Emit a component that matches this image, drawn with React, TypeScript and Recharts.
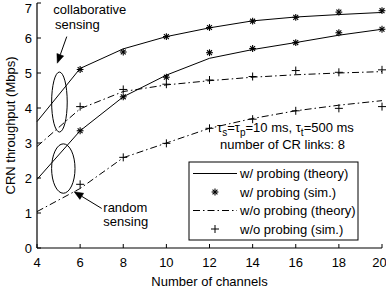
import React from 'react';
import { ComposedChart, Line, XAxis, YAxis, ReferenceDot, ReferenceLine, Customized } from 'recharts';

const channels = [4, 6, 8, 10, 12, 14, 16, 18, 20];
const collabProbTheory = [3.61, 5.13, 5.69, 6.04, 6.29, 6.49, 6.6, 6.67, 6.73];
const collabProbSim = [null, 5.1, 5.6, 6.04, 6.3, 6.48, 6.59, 6.74, 6.78];
const randomProbTheory = [1.96, 3.35, 4.32, 4.94, 5.42, 5.67, 5.87, 6.08, 6.25];
const randomProbSim = [null, 3.35, 4.32, 4.88, 5.58, 5.7, 5.87, 6.15, 6.25];
const collabNoProbTheory = [2.9, 3.98, 4.47, 4.66, 4.78, 4.88, 4.95, 5.0, 5.04];
const collabNoProbSim = [null, 4.04, 4.53, 4.68, 4.8, 4.9, 5.07, 5.02, 5.09];
const randomNoProbTheory = [1.04, 1.7, 2.58, 3.0, 3.42, 3.7, 3.92, 4.08, 4.21];
const randomNoProbSim = [null, 1.82, 2.59, 2.99, 3.42, 3.68, 3.92, 3.99, 4.04];

const xTicks = [4, 6, 8, 10, 12, 14, 16, 18, 20];
const yTicks = [0, 1, 2, 3, 4, 5, 6, 7];
const legendLabels = ['w/ probing (theory)', 'w/ probing (sim.)', 'w/o probing (theory)', 'w/o probing (sim.)'];

const data = channels.map((x, i) => ({
  x,
  cpt: collabProbTheory[i],
  cps: collabProbSim[i],
  rpt: randomProbTheory[i],
  rps: randomProbSim[i],
  cnt: collabNoProbTheory[i],
  cns: collabNoProbSim[i],
  rnt: randomNoProbTheory[i],
  rns: randomNoProbSim[i],
}));

const FONT = '"Liberation Sans", Arial, sans-serif';
const DASHDOT = '7 3 1.5 3';

const Star = (cx: number, cy: number, key?: any) => {
  const r = 3.4;
  const d = r * 0.72;
  return (
    <g key={key}>
      <line x1={cx - r} y1={cy} x2={cx + r} y2={cy} stroke="#000" strokeWidth={1.1} />
      <line x1={cx} y1={cy - r} x2={cx} y2={cy + r} stroke="#000" strokeWidth={1.1} />
      <line x1={cx - d} y1={cy - d} x2={cx + d} y2={cy + d} stroke="#000" strokeWidth={1.1} />
      <line x1={cx - d} y1={cy + d} x2={cx + d} y2={cy - d} stroke="#000" strokeWidth={1.1} />
    </g>
  );
};

const Plus = (cx: number, cy: number, key?: any) => {
  const r = 4;
  return (
    <g key={key}>
      <line x1={cx - r} y1={cy} x2={cx + r} y2={cy} stroke="#000" strokeWidth={1} />
      <line x1={cx} y1={cy - r} x2={cx} y2={cy + r} stroke="#000" strokeWidth={1} />
    </g>
  );
};

const StarDot = (p: any) => {
  if (p.cx == null || p.cy == null || p.value == null || (Array.isArray(p.value) && p.value[1] == null)) return <g key={p.key} />;
  return Star(p.cx, p.cy, p.key);
};
const PlusDot = (p: any) => {
  if (p.cx == null || p.cy == null || p.value == null || (Array.isArray(p.value) && p.value[1] == null)) return <g key={p.key} />;
  return Plus(p.cx, p.cy, p.key);
};

const ArrowShape = (p: any) => {
  const { x1, y1, x2, y2 } = p;
  const dx = x2 - x1;
  const dy = y2 - y1;
  const len = Math.sqrt(dx * dx + dy * dy) || 1;
  const ux = dx / len;
  const uy = dy / len;
  const hl = 9;
  const hw = 3.6;
  const bx = x2 - ux * hl;
  const by = y2 - uy * hl;
  return (
    <g>
      <line x1={x1} y1={y1} x2={bx} y2={by} stroke="#000" strokeWidth={1} />
      <polygon
        points={`${x2},${y2} ${bx - uy * hw},${by + ux * hw} ${bx + uy * hw},${by - ux * hw}`}
        fill="#000"
        stroke="#000"
        strokeWidth={0.5}
      />
    </g>
  );
};

const ellipseShape = (rx: number, ry: number) => (p: any) => (
  <ellipse cx={p.cx} cy={p.cy} rx={rx} ry={ry} fill="none" stroke="#000" strokeWidth={1} />
);

const textShape = (lines: string[], lineGap: number, indent: number[] = []) => (p: any) => (
  <g>
    {lines.map((t, i) => (
      <text key={i} x={p.cx + (indent[i] || 0)} y={p.cy + i * lineGap} fontFamily={FONT} fontSize={13} fill="#000">
        {t}
      </text>
    ))}
  </g>
);

const tauShape = (p: any) => (
  <g fontFamily={FONT} fontSize={13} fill="#000">
    <text x={p.cx} y={p.cy}>
      <tspan>τ</tspan>
      <tspan fontSize={10} dy={4}>s</tspan>
      <tspan dy={-4}>=τ</tspan>
      <tspan fontSize={10} dy={4}>p</tspan>
      <tspan dy={-4}>=10 ms, τ</tspan>
      <tspan fontSize={10} dy={4}>t</tspan>
      <tspan dy={-4}>=500 ms</tspan>
    </text>
    <text x={p.cx + 3} y={p.cy + 17}>number of CR links: 8</text>
  </g>
);

const LegendBox = () => {
  const left = 189;
  const top = 162;
  const rows = [173.5, 192, 210.5, 229];
  return (
    <g>
      <rect x={left} y={top} width={169} height={78} fill="#fff" stroke="#000" strokeWidth={1} />
      <line x1={193} y1={rows[0]} x2={237} y2={rows[0]} stroke="#000" strokeWidth={1} />
      {Star(215, rows[1])}
      <line x1={193} y1={rows[2]} x2={237} y2={rows[2]} stroke="#000" strokeWidth={1} strokeDasharray={DASHDOT} />
      {Plus(215, rows[3])}
      {legendLabels.map((t, i) => (
        <text key={t} x={240} y={rows[i]} dy="0.36em" fontFamily={FONT} fontSize={13} fill="#000">
          {t}
        </text>
      ))}
    </g>
  );
};

export default function App() {
  const axisStroke = { stroke: '#000', strokeWidth: 1.2 };
  const tickStyle = { fill: '#000', fontSize: 13, fontFamily: FONT };
  return (
    <div style={{ position: 'absolute', left: 0, top: 0, width: 386, height: 292, background: '#fff' }}>
      <ComposedChart width={386} height={292} data={data} margin={{ top: 3, right: 4, left: 0, bottom: 0 }}>
        <XAxis
          xAxisId="b"
          dataKey="x"
          type="number"
          domain={[4, 20]}
          ticks={xTicks}
          height={44}
          tickSize={-4}
          tickMargin={14}
          axisLine={axisStroke}
          tickLine={{ stroke: '#000' }}
          tick={tickStyle}
          label={{ value: 'Number of channels', position: 'insideBottom', offset: 6, fill: '#000', fontSize: 13, fontFamily: FONT }}
        />
        <XAxis
          xAxisId="t"
          orientation="top"
          dataKey="x"
          type="number"
          domain={[4, 20]}
          ticks={xTicks}
          height={0}
          tickSize={-4}
          axisLine={axisStroke}
          tickLine={{ stroke: '#000' }}
          tickFormatter={() => ''}
        />
        <YAxis
          yAxisId="l"
          type="number"
          domain={[0, 7]}
          ticks={yTicks}
          width={37}
          tickSize={-4}
          tickMargin={9}
          axisLine={axisStroke}
          tickLine={{ stroke: '#000' }}
          tick={tickStyle}
          label={{
            value: 'CRN throughput (Mbps)',
            angle: -90,
            position: 'insideLeft',
            offset: 10,
            fill: '#000',
            fontSize: 13,
            fontFamily: FONT,
            style: { textAnchor: 'middle' },
          }}
        />
        <YAxis
          yAxisId="r"
          orientation="right"
          type="number"
          domain={[0, 7]}
          ticks={yTicks}
          width={0}
          tickSize={-4}
          axisLine={axisStroke}
          tickLine={{ stroke: '#000' }}
          tickFormatter={() => ''}
        />

        <Line xAxisId="b" yAxisId="l" dataKey="cpt" type="linear" stroke="#000" strokeWidth={1} dot={false} isAnimationActive={false} />
        <Line xAxisId="b" yAxisId="l" dataKey="rpt" type="linear" stroke="#000" strokeWidth={1} dot={false} isAnimationActive={false} />
        <Line xAxisId="b" yAxisId="l" dataKey="cnt" type="linear" stroke="#000" strokeWidth={1} strokeDasharray={DASHDOT} dot={false} isAnimationActive={false} />
        <Line xAxisId="b" yAxisId="l" dataKey="rnt" type="linear" stroke="#000" strokeWidth={1} strokeDasharray={DASHDOT} dot={false} isAnimationActive={false} />
        <Line xAxisId="b" yAxisId="l" dataKey="cps" stroke="none" dot={StarDot} activeDot={false} isAnimationActive={false} />
        <Line xAxisId="b" yAxisId="l" dataKey="rps" stroke="none" dot={StarDot} activeDot={false} isAnimationActive={false} />
        <Line xAxisId="b" yAxisId="l" dataKey="cns" stroke="none" dot={PlusDot} activeDot={false} isAnimationActive={false} />
        <Line xAxisId="b" yAxisId="l" dataKey="rns" stroke="none" dot={PlusDot} activeDot={false} isAnimationActive={false} />

        <ReferenceDot xAxisId="b" yAxisId="l" x={5.04} y={4.17} shape={ellipseShape(7.8, 30)} />
        <ReferenceDot xAxisId="b" yAxisId="l" x={5.22} y={2.27} shape={ellipseShape(11.7, 24.7)} />
        <ReferenceLine xAxisId="b" yAxisId="l" segment={[{ x: 5.38, y: 6.04 }, { x: 4.94, y: 5.28 }]} shape={ArrowShape} />
        <ReferenceLine xAxisId="b" yAxisId="l" segment={[{ x: 7.0, y: 1.13 }, { x: 5.72, y: 1.61 }]} shape={ArrowShape} />
        <ReferenceDot xAxisId="b" yAxisId="l" x={4.756} y={6.686} shape={textShape(['collaborative', 'sensing'], 15, [0, 1.7])} />
        <ReferenceDot xAxisId="b" yAxisId="l" x={7.075} y={1.029} shape={textShape(['random', 'sensing'], 14)} />
        <ReferenceDot xAxisId="b" yAxisId="l" x={12.35} y={3.31} shape={tauShape} />

        <Customized component={LegendBox} />
      </ComposedChart>
    </div>
  );
}
